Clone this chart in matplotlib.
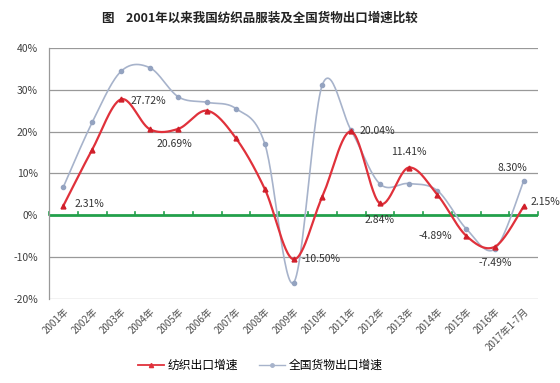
import numpy as np
import matplotlib
matplotlib.use("Agg")
import matplotlib.pyplot as plt
from matplotlib.lines import Line2D

plt.rcParams['font.family'] = ['Noto Sans CJK SC', 'DejaVu Sans']

title = "图    2001年以来我国纺织品服装及全国货物出口增速比较"
categories = ["2001年", "2002年", "2003年", "2004年", "2005年", "2006年", "2007年",
              "2008年", "2009年", "2010年", "2011年", "2012年", "2013年", "2014年",
              "2015年", "2016年", "2017年1-7月"]
textile = [2.31, 15.7, 27.72, 20.6, 20.69, 25.0, 18.4, 6.3, -10.50, 4.5, 20.04,
           2.84, 11.41, 4.9, -4.89, -7.49, 2.15]
national = [6.8, 22.2, 34.4, 35.3, 28.3, 27.0, 25.5, 17.1, -16.1, 31.2, 20.3,
            7.5, 7.6, 5.9, -3.2, -8.0, 8.30]
series_names = ["纺织出口增速", "全国货物出口增速"]
yticks = [-20, -10, 0, 10, 20, 30, 40]


def smooth(x, y, n=30):
    x = np.asarray(x, float)
    y = np.asarray(y, float)
    P = np.column_stack([x, y])
    Pext = np.vstack([P[0], P, P[-1]])
    out = []
    t = np.linspace(0, 1, n)[:, None]
    for i in range(len(P) - 1):
        p0 = Pext[i + 1]
        p3 = Pext[i + 2]
        c1 = p0 + (Pext[i + 2] - Pext[i]) / 6.0
        c2 = p3 - (Pext[i + 3] - Pext[i + 1]) / 6.0
        seg = ((1 - t) ** 3) * p0 + 3 * ((1 - t) ** 2) * t * c1 + 3 * (1 - t) * t ** 2 * c2 + t ** 3 * p3
        out.append(seg if i == 0 else seg[1:])
    out = np.vstack(out)
    return out[:, 0], out[:, 1]


fig = plt.figure(figsize=(5.6, 3.83), dpi=100)
ax = fig.add_axes([0.0875, 0.2193, 0.8735, 0.6554])

x = np.arange(len(categories))
red = "#E0313B"
gray = "#A7B3CB"

gx, gy = smooth(x, national)
ax.plot(gx, gy, color=gray, lw=1.2, zorder=3)
ax.plot(x, national, ls="none", marker="o", ms=3, color="#94A3C0", zorder=4)
rx, ry = smooth(x, textile)
ax.plot(rx, ry, color=red, lw=1.6, zorder=5)
ax.plot(x, textile, ls="none", marker="^", ms=3.5, color="#D01F2A", zorder=6)

ax.set_xlim(-0.5, len(categories) - 0.5)
ax.set_ylim(-20, 40)
ax.set_yticks(yticks)
ax.set_yticklabels([f"{v}%" for v in yticks], fontsize=7.5, color="#404040")
ax.tick_params(axis='y', length=0, pad=8)
for v in yticks:
    if v != 0:
        ax.axhline(v, color="#999999", lw=0.9, zorder=1)
ax.axhline(0, color="#22A04B", lw=2, zorder=2)
for b in np.arange(-0.5, len(categories), 1.0):
    ax.plot([b, b], [0, 0.9], color="#22A04B", lw=1.2, zorder=2, clip_on=False)

ax.set_xticks(x)
ax.set_xticklabels(categories, rotation=45, ha="right", va="top",
                   rotation_mode="anchor", fontsize=7, color="#505050")
ax.tick_params(axis='x', length=0, pad=5)
for s in ["top", "right", "bottom"]:
    ax.spines[s].set_visible(False)
ax.spines["left"].set_color("#999999")
ax.spines["left"].set_linewidth(0.9)

lab_kw = dict(fontsize=7.5, color="#333333", zorder=7)
ax.annotate("2.31%", (0, textile[0]), xytext=(8, 1), textcoords="offset points", ha="left", va="center", **lab_kw)
ax.annotate("27.72%", (2, textile[2]), xytext=(7, -1), textcoords="offset points", ha="left", va="center", **lab_kw)
ax.annotate("20.69%", (4, textile[4]), xytext=(-3, -11), textcoords="offset points", ha="center", va="center", **lab_kw)
ax.annotate("-10.50%", (8, textile[8]), xytext=(6, 0), textcoords="offset points", ha="left", va="center", **lab_kw)
ax.annotate("20.04%", (10, textile[10]), xytext=(6, 0), textcoords="offset points", ha="left", va="center", **lab_kw)
ax.annotate("2.84%", (11, textile[11]), xytext=(0, -12), textcoords="offset points", ha="center", va="center", **lab_kw)
ax.annotate("11.41%", (12, textile[12]), xytext=(0, 11), textcoords="offset points", ha="center", va="center", **lab_kw)
ax.annotate("-4.89%", (14, textile[14]), xytext=(-22, 0), textcoords="offset points", ha="center", va="center", **lab_kw)
ax.annotate("-7.49%", (15, textile[15]), xytext=(0, -12), textcoords="offset points", ha="center", va="center", **lab_kw)
ax.annotate("2.15%", (16, textile[16]), xytext=(5, 3), textcoords="offset points", ha="left", va="center", **lab_kw)
ax.annotate("8.30%", (16, national[16]), xytext=(-8, 9), textcoords="offset points", ha="center", va="center", **lab_kw)

fig.text(0.464, 0.952, title, ha="center", va="center", fontsize=9, fontweight="bold", color="#222222")

handles = [Line2D([], [], color=red, lw=1.3, marker="^", ms=3),
           Line2D([], [], color=gray, lw=1.0, marker="o", ms=2.5)]
fig.legend(handles, series_names, loc="center", bbox_to_anchor=(0.465, 0.045), ncol=2,
           frameon=False, fontsize=8.5, handlelength=2.2, columnspacing=1.8, handletextpad=0.3)

fig.savefig("out.png", dpi=100)
